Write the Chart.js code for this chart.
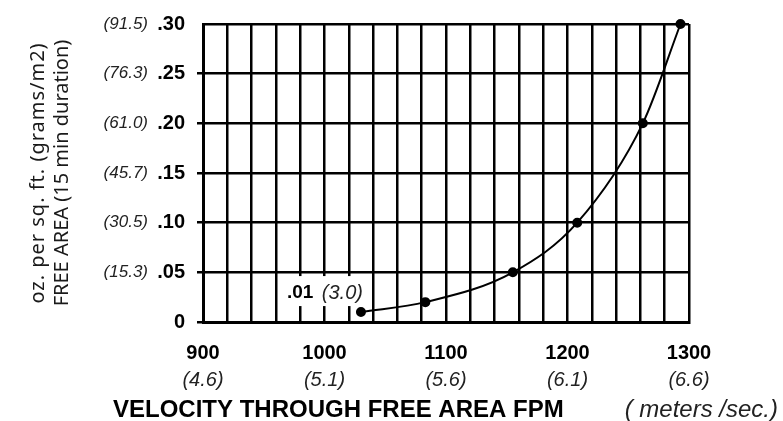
<!DOCTYPE html>
<html>
<head>
<meta charset="utf-8">
<script src="https://cdn.jsdelivr.net/npm/chart.js@4.4.1/dist/chart.umd.min.js"></script>
<style>
  body { margin: 0; background: #fff; }
  #wrap { width: 783px; height: 421px; }
</style>
</head>
<body>
<div id="wrap"><canvas id="chart_1"></canvas></div>
<script>
// velocity through free area (FPM) vs. oz per sq. ft.
const velocity = [1030, 1083, 1155, 1208, 1262, 1293];
const ozPerSqFt = [0.01, 0.02, 0.05, 0.1, 0.2, 0.3];

const fpmLabels = ["900", "1000", "1100", "1200", "1300"];
const msLabels = ["(4.6)", "(5.1)", "(5.6)", "(6.1)", "(6.6)"];
const ozLabels = ["0", ".05", ".10", ".15", ".20", ".25", ".30"];
const gramLabels = ["", "(15.3)", "(30.5)", "(45.7)", "(61.0)", "(76.3)", "(91.5)"];

const yTitle = ["oz. per sq. ft. (grams/m2)", "FREE AREA (15 min duration)"];
const xTitle = "VELOCITY THROUGH FREE AREA FPM";
const xTitleMetric = "( meters /sec.)";
const firstLabel = [".01", "(3.0)"];

const ct_1 = document.getElementById("chart_1");

const boldFont = { family: "Liberation Sans, Arial", size: 20, weight: "bold" };
const italicFont = { family: "Liberation Sans, Arial", size: 20, style: "italic" };

// titles and the label by the first point
const textPlugin = {
  id: "extraText",
  beforeDatasetsDraw(chart) {
    const ctx = chart.ctx;
    const p = chart.getDatasetMeta(0).data[0];
    ctx.save();
    ctx.fillStyle = "#fff";
    ctx.fillRect(p.x - 79, p.y - 36, 83, 30);
    ctx.textBaseline = "middle";
    ctx.fillStyle = "#000";
    ctx.font = "bold 19px 'Liberation Sans', Arial";
    ctx.textAlign = "left";
    ctx.fillText(firstLabel[0], p.x - 74, p.y - 19);
    ctx.fillStyle = "#222";
    ctx.font = "italic 20px 'Liberation Sans', Arial";
    ctx.textAlign = "right";
    ctx.fillText(firstLabel[1], p.x + 2, p.y - 19);
    ctx.restore();
  },
  afterDraw(chart) {
    const ctx = chart.ctx;
    const area = chart.chartArea;
    const midY = (area.top + area.bottom) / 2;
    ctx.save();
    ctx.fillStyle = "#1a1a1a";
    ctx.font = "20px 'Noto Sans'";
    ctx.textAlign = "center";
    ctx.textBaseline = "middle";
    yTitle.forEach((line, i) => {
      ctx.save();
      ctx.letterSpacing = i === 0 ? "1px" : "0px";
      ctx.translate(38 + i * 24, midY);
      ctx.rotate(-Math.PI / 2);
      ctx.fillText(line, 0, 0);
      ctx.restore();
    });
    ctx.textAlign = "left";
    ctx.fillStyle = "#000";
    ctx.font = "bold 24px 'Liberation Sans', Arial";
    ctx.fillText(xTitle, 113, 410);
    ctx.fillStyle = "#222";
    ctx.font = "italic 24px 'Liberation Sans', Arial";
    ctx.textAlign = "right";
    ctx.fillText(xTitleMetric, 778, 410);
    ctx.restore();
  },
};

const config_1 = {
  type: "line",
  data: {
    datasets: [
      {
        data: velocity.map((v, i) => ({ x: v, y: ozPerSqFt[i] })),
        borderColor: "#000",
        borderWidth: 2,
        pointBackgroundColor: "#000",
        pointBorderColor: "#000",
        pointRadius: 4,
        cubicInterpolationMode: "monotone",
        fill: false,
        clip: false,
      },
    ],
  },
  options: {
    responsive: true,
    maintainAspectRatio: false,
    animation: false,
    layout: { padding: { left: 0, top: 23, right: 94, bottom: 0 } },
    plugins: {
      legend: { display: false },
      tooltip: { enabled: false },
    },
    scales: {
      x: {
        type: "linear",
        position: "bottom",
        weight: 0,
        min: 900,
        max: 1300,
        grid: { color: "#000", lineWidth: 2.5, drawTicks: false },
        border: { display: true, color: "#000", width: 3 },
        ticks: {
          stepSize: 20,
          autoSkip: false,
          maxRotation: 0,
          padding: 19,
          color: "#000",
          font: boldFont,
          callback: (v, i) => (i % 5 === 0 ? fpmLabels[i / 5] : ""),
        },
        afterFit: (scale) => { scale.height = 40; },
      },
      x2: {
        type: "linear",
        position: "bottom",
        weight: 1,
        min: 900,
        max: 1300,
        grid: { display: false, drawTicks: false },
        border: { display: false },
        ticks: {
          stepSize: 100,
          autoSkip: false,
          maxRotation: 0,
          padding: 6,
          color: "#222",
          font: italicFont,
          callback: (v, i) => msLabels[i],
        },
        afterFit: (scale) => { scale.height = 59; },
      },
      y: {
        type: "linear",
        position: "left",
        weight: 0,
        min: 0,
        max: 0.3,
        grid: {
          color: "#000",
          lineWidth: 2.5,
          tickLength: 6,
          tickColor: (c) => (c.index === 6 ? "rgba(0,0,0,0)" : "#000"),
        },
        border: { display: true, color: "#000", width: 3 },
        ticks: {
          stepSize: 0.05,
          padding: 12,
          color: "#000",
          font: boldFont,
          callback: (v, i) => ozLabels[i],
        },
        afterFit: (scale) => { scale.width = 48; },
      },
      y2: {
        type: "linear",
        position: "left",
        weight: 1,
        min: 0,
        max: 0.3,
        grid: { display: false, drawTicks: false },
        border: { display: false },
        ticks: {
          stepSize: 0.05,
          padding: 7,
          color: "#222",
          font: { family: "Liberation Sans, Arial", size: 17, style: "italic" },
          callback: (v, i) => gramLabels[i],
        },
        afterFit: (scale) => { scale.width = 155; },
      },
    },
  },
  plugins: [textPlugin],
};

new Chart(ct_1, config_1);
</script>
</body>
</html>
